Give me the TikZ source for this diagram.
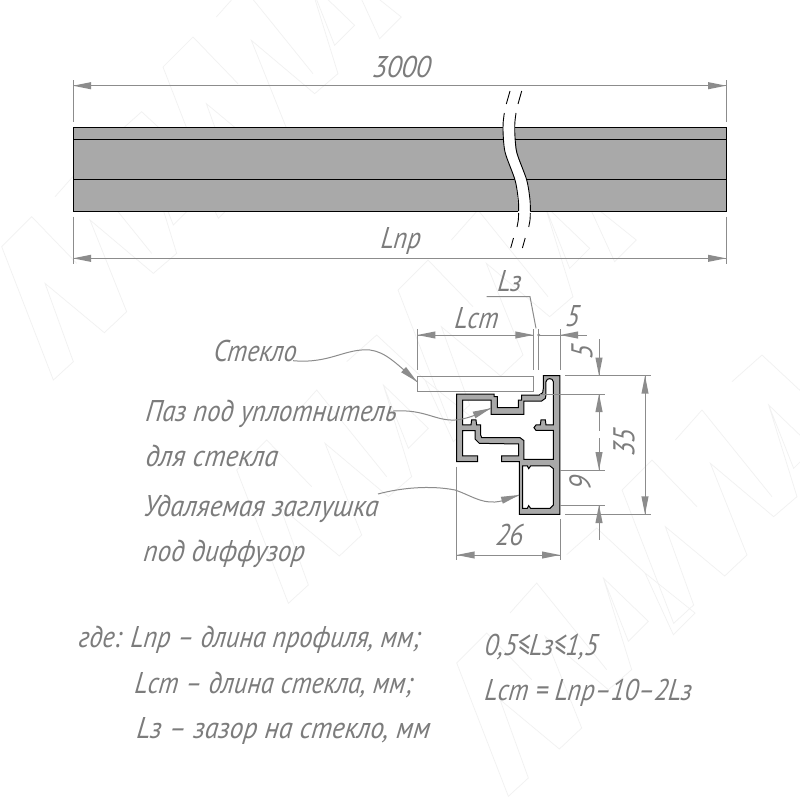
\documentclass[tikz,border=0pt]{standalone}
\usepackage{fontspec}
\usepackage{graphicx}
\usetikzlibrary{arrows.meta}
\setmainfont[ItalicFont=PT Sans Italic]{PT Sans}
\definecolor{dimgray}{HTML}{8C8C8C}
\definecolor{txtgray}{HTML}{7C7C7C}
\definecolor{barfill}{HTML}{A9A9A9}
\definecolor{wmark}{HTML}{F1F1F1}
\newcommand{\tf}[1]{\fontsize{#1}{#1}\selectfont\itshape}
\newcommand{\wx}[2]{\scalebox{#1}[1]{#2}}
\tikzset{
  dimline/.style={draw=dimgray,line width=1pt},
  extline/.style={draw=dimgray,line width=1pt},
  dimarrow/.style={draw=none,fill=dimgray},
  lbl/.style={text=txtgray,inner sep=0pt,font=\tf{30},transform shape,xslant=0.1,xscale=0.87},
  lblr/.style={text=txtgray,inner sep=0pt,font=\tf{30},transform shape,rotate=90,xslant=0.1,xscale=0.87},
  lblw/.style={lbl,anchor=base west},
  leader/.style={draw=dimgray,line width=1pt},
  barbody/.style={fill=barfill,draw=black,line width=1pt},
  brk/.style={draw=black,line width=0.9pt},
  profile/.style={fill=barfill,draw=black,line width=1pt,even odd rule},
  wm/.style={draw=wmark,line width=0.7pt},
}
% arrowhead: \ah{tip}{direction on the page, counter-clockwise}
\newcommand{\ah}[2]{\fill[dimarrow,shift={(#1)},rotate=#2] (0,0) -- (-18,3.6) -- (-18,-3.6) -- cycle;}
\begin{document}
\begin{tikzpicture}[x=1pt,y=-1pt]
\useasboundingbox (0,0) rectangle (800,800);
\fill[white] (0,0) rectangle (800,800);
% watermark
\foreach \px/\py in {1.7/246.7,236.7/470,456.7/663,163/67,398/290,622/490}{
 \begin{scope}[shift={(\px,\py)},x=0.3333pt,y=-0.3333pt]
  \draw[wm] (0,0) -- (155,400) -- (215,345) -- (130,110) -- (308,258) -- (375,195) -- (265,-80) -- (455,80) -- (525,20) -- (440,-255) -- (575,-125) -- (515,-65) -- (440,-255);
  \draw[wm] (0,0) -- (90,-90) -- (225,50);
  \draw[wm] (160,-150) -- (240,-240) -- (450,20);
  \draw[wm] (330,-325) -- (420,-405) -- (565,-270) -- (715,-150) -- (650,-85) -- (565,-270);
 \end{scope}
}
% bar
\draw[barbody] (73,127.5) rectangle (726,211);
\draw[black,line width=1pt] (73,139) -- (726,139);
\draw[black,line width=1pt] (73,179.3) -- (726,179.3);
% break
\fill[white] plot[smooth] coordinates {(503,126) (503,128) (505,152) (515,180) (518.3,207) (518,212)} -- plot[smooth] coordinates {(530,212) (530.7,205) (526.7,180) (516,152) (515,128) (515,126)} -- cycle;
\foreach \dx in {0,11.7}{
 \begin{scope}[xshift=\dx]
  \draw[brk] (510,91) -- (506.3,104);
  \draw[brk] plot[smooth] coordinates {(504.3,113) (503.2,122) (503,130)};
  \draw[brk] plot[smooth] coordinates {(503,130) (505,152) (515,180) (518.3,200) (518.6,211)};
  \draw[brk] plot[smooth] coordinates {(518.6,213) (518.3,220) (517,227)};
  \draw[brk] (513.5,238) -- (510.7,248);
 \end{scope}
}
% top dim
\coordinate (tl) at (73,85.7); \coordinate (tr) at (726,85.7);
\coordinate (bl) at (73,258.3); \coordinate (br) at (726,258.3);
\draw[extline] (73,80) -- (73,122) (726,80) -- (726,122);
\draw[extline] (73,216.5) -- (73,264) (726,216.5) -- (726,264);
\draw[dimline] (tl) -- (tr); \draw[dimline] (bl) -- (br);
\ah{tl}{180}\ah{tr}{0}\ah{bl}{180}\ah{br}{0}
\node[lbl] (t3000) at (402,67) {\wx{1.07}{3000}};
\node[lbl] (tLnp) at (401,241) {Lпр};
% glass
\draw[draw=dimgray,line width=1pt] (417.3,376) rectangle (533.3,391.7);
% profile
\begin{scope}[shift={(440,370)},x=0.3333pt,y=-0.3333pt]
\draw[profile]
 (50,72) -- (162,72) -- (162,80) -- (172,80) -- (172,113) -- (235,113) -- (235,90) -- (245,90) -- (245,75) -- (298,75) -- (308,68) -- (310,55) -- (310,17) -- (360,17) -- (360,433) -- (238,433) -- (238,275) -- (185,275) -- (185,258) -- (236,258) -- (236,222) -- (118,220) -- (105,207) -- (105,182) -- (68,182) -- (68,258) -- (113,258) -- (113,275) -- (50,275) -- cycle
 (68,90) -- (153,90) -- (153,133) -- (252,133) -- (252,93) -- (305,93) -- (316,85) -- (318,75) -- (318,35) -- (322,28) -- (329,26) -- (336,28) -- (340,35) -- (340,165) -- (318,165) -- (316,150) -- (303,150) -- (301,165) -- (288,165) -- (282,173) -- (288,181) -- (340,181) -- (340,268) -- (252,268) -- (252,212) -- (240,203) -- (125,203) -- (122,195) -- (122,165) -- (110,165) -- (108,150) -- (95,150) -- (93,165) -- (68,165) -- cycle
 (248,288) -- (262,288) -- (266,296) -- (272,288) -- (330,288) -- (340,296) -- (340,405) -- (330,415) -- (272,415) -- (266,407) -- (262,415) -- (248,415) -- cycle;
\end{scope}
% Lcm and 5 dims
\coordinate (ca) at (417.3,335); \coordinate (cb) at (533.3,335);
\coordinate (cc) at (538.7,335); \coordinate (cd) at (560,335);
\draw[extline] (417.3,329) -- (417.3,370) (533.3,329) -- (533.3,370) (538.7,329) -- (538.7,370) (560,329) -- (560,370);
\draw[dimline] (ca) -- (cb);
\draw[dimline] (cc) -- (586.7,335);
\ah{ca}{180}\ah{cb}{0}\ah{cd}{180}
\fill[dimgray] (cc) circle (1.6);
\node[lbl] (tLcm) at (477,318) {Lст};
\node[lbl] (t5a) at (573,316) {5};
\node[lbl] (tLz) at (510,281) {Lз};
\draw[leader] (486.7,296.7) -- (530,296.7) -- (536,328.3);
% right chain
\draw[extline] (565,375.7) -- (651,375.7) (540,394) -- (605,394) (560,470) -- (605,470) (560,505) -- (605,505) (565,514.3) -- (651,514.3);
\coordinate (v1) at (599,375.7); \coordinate (v2) at (599,394); \coordinate (v3) at (599,470); \coordinate (v4) at (599,505);
\draw[dimline] (599,339) -- (v1) (v2) -- (599,431) (599,438) -- (v3) (v4) -- (599,540);
\ah{v1}{-90}\ah{v2}{90}\ah{v3}{-90}\ah{v4}{90}
\node[lblr] (t5b) at (582,352) {5};
\node[lblr] (t9) at (580,483) {9};
\node[lblr] (t35) at (624,442) {35};
\coordinate (w1) at (645,375.7); \coordinate (w2) at (645,514.3);
\draw[dimline] (w1) -- (w2); \ah{w1}{90}\ah{w2}{-90}
% 26 dim
\draw[extline] (456.7,466.7) -- (456.7,560) (560,519) -- (560,560);
\coordinate (u1) at (456.7,555); \coordinate (u2) at (560,555);
\draw[dimline] (u1) -- (u2); \ah{u1}{180}\ah{u2}{0}
\node[lbl] (t26) at (510,535) {26};
% labels
\node[lblw] (tGlass) at (213,361.5) {Стекло};
\node[lblw] (tPaz) at (145,421.5) {\wx{1.015}{Паз под уплотнитель}};
\node[lblw] (tFor) at (145,466.5) {\wx{1.06}{для стекла}};
\node[lblw] (tPlug) at (143,516) {\wx{1.04}{Удаляемая заглушка}};
\node[lblw] (tDif) at (143,561) {\wx{1.03}{под диффузор}};
\coordinate (aGlass) at (417,381.7);
\coordinate (aPaz) at (490.7,408.3);
\coordinate (aPlug) at (519,495);
\draw[leader] (293,360.7) .. controls (330,364) and (345,348) .. (370,350) .. controls (385,352) and (395,362) .. (aGlass);
\ah{aGlass}{-42}
\draw[leader] (393.3,411) .. controls (425,409) and (435,421) .. (455,420) .. controls (468,419) and (478,414) .. (aPaz);
\ah{aPaz}{22}
\draw[leader] (378,494) .. controls (400,488) and (430,485) .. (455,490) .. controls (470,495) and (480,503) .. (495,502) .. controls (505,501) and (512,498) .. (aPlug);
\ah{aPlug}{17}
% notes
\node[lblw] (n1) at (78,647) {\wx{1.0}{где: Lпр – длина профиля, мм;}};
\node[lblw] (n2) at (134,693) {\wx{1.0}{Lст – длина стекла, мм;}};
\node[lblw] (n3) at (136,738) {\wx{1.05}{Lз – зазор на стекло, мм}};
\node[lblw] (n4) at (484,655) {0,5≤Lз≤1,5};
\node[lblw] (n5) at (484,700) {Lст = Lпр–10–2Lз};
\end{tikzpicture}
\end{document}
